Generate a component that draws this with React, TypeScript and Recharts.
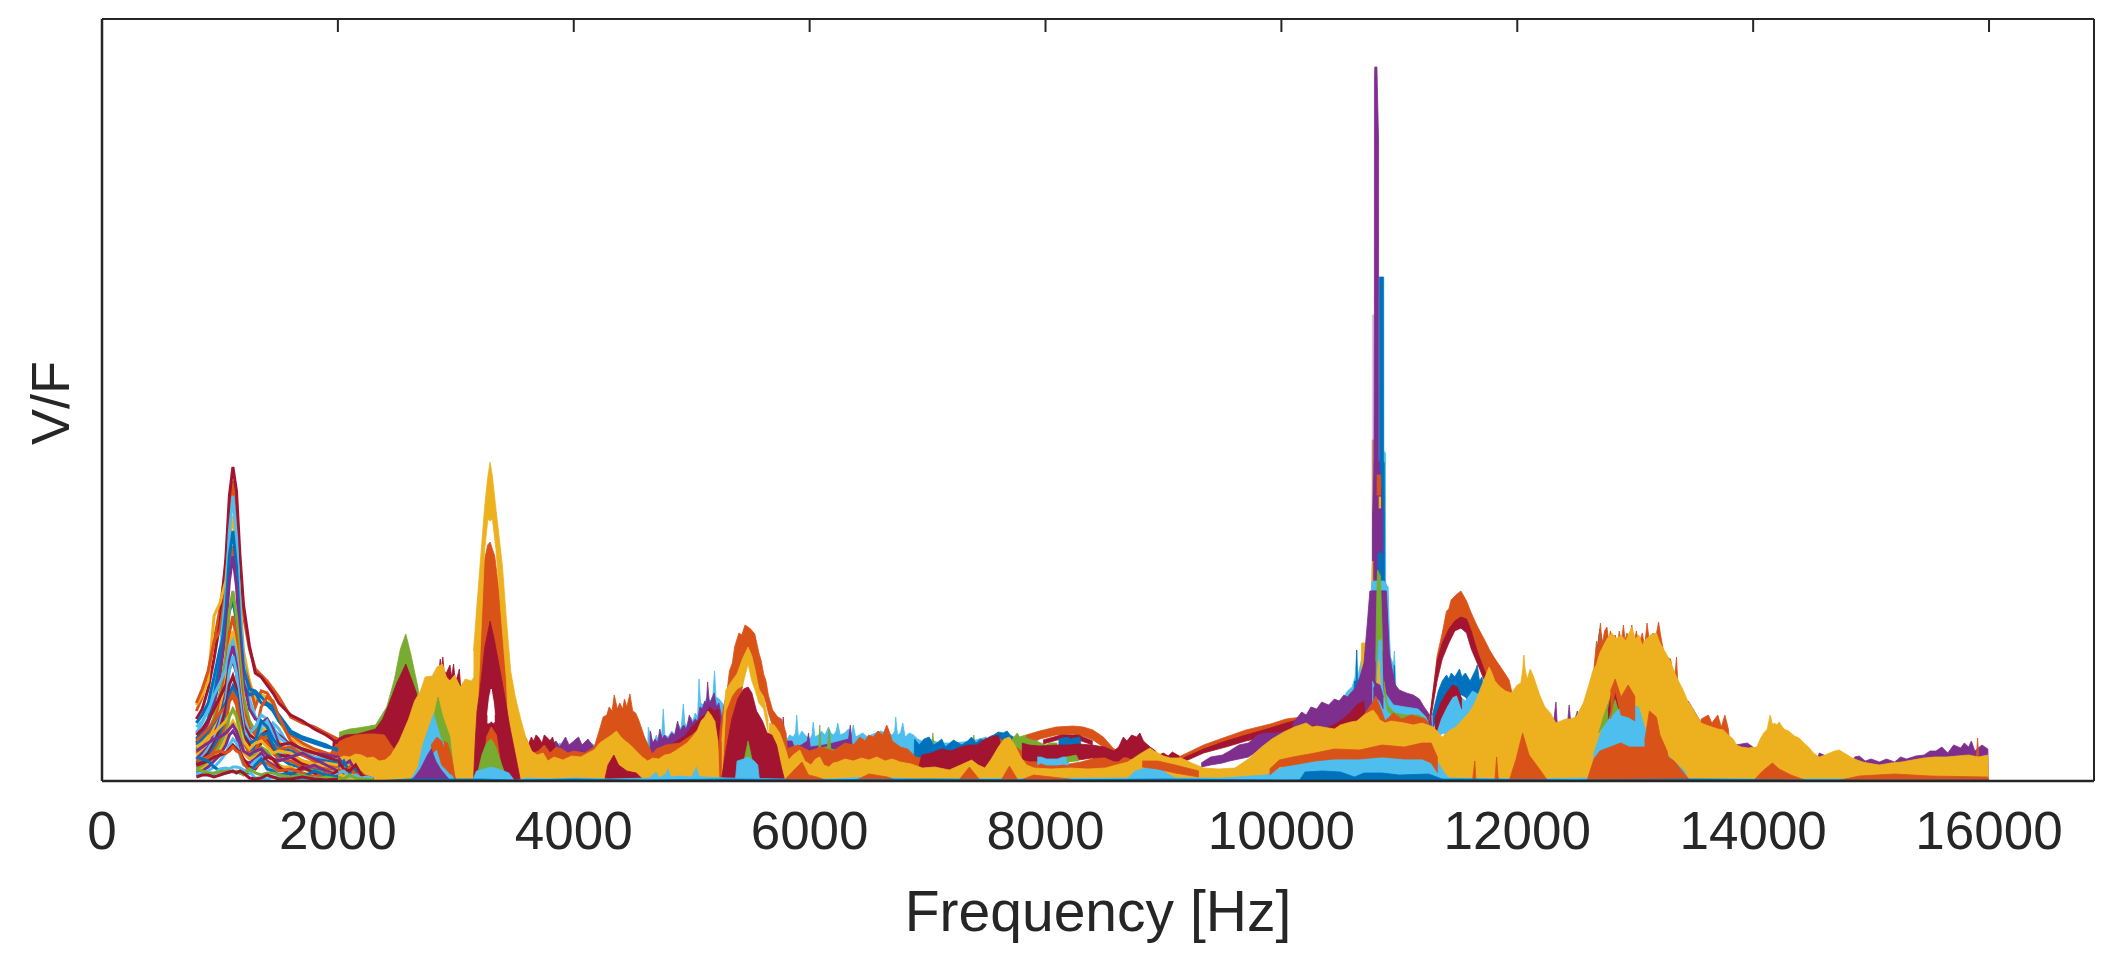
import React from 'react';
import { ComposedChart, Area, Line, XAxis, YAxis } from 'recharts';

// Colours of the series
const B = '#0072BD', O = '#D95319', Y = '#EDB120', P = '#7E2F8E', G = '#77AC30', L = '#4DBEEE', M = '#A2142F';

const xTicks = [0, 2000, 4000, 6000, 8000, 10000, 12000, 14000, 16000];

// Individual traces, 800-2000 Hz
const lowGrid = [800,850,900,950,1000,1050,1080,1110,1140,1170,1200,1250,1300,1350,1400,1450,1500,1600,1700,1800,1900,2000];
const lowTraces: [string, number[]][] = [
  [O, [70,84,108,140,172,215,270,300,265,205,165,132,112,106,100,92,84,64,58,54,48,42]],
  [M, [62,72,92,122,158,222,285,314,290,225,176,135,108,104,96,88,78,66,60,52,46,38]],
  [Y, [76,86,100,165,178,200,240,265,235,180,130,100,80,86,84,76,60,42,36,30,26,22]],
  [O, [78,92,110,140,150,190,215,235,215,165,118,96,74,90,88,78,62,46,38,32,28,24]],
  [L, [48,58,72,92,130,185,250,285,245,175,120,82,64,52,48,58,52,32,26,22,18,16]],
  [B, [42,50,62,84,120,170,225,250,215,155,112,92,90,84,78,74,66,50,44,40,36,30]],
  [B, [58,66,78,104,132,150,170,180,160,118,96,86,88,78,76,70,60,48,42,38,34,32]],
  [P, [38,46,58,76,105,150,200,225,195,140,100,72,62,60,54,52,46,36,32,28,26,24]],
  [G, [32,38,48,64,88,125,170,190,165,120,84,60,50,48,40,36,30,24,20,16,14,12]],
  [O, [28,34,44,58,78,110,148,165,142,102,72,54,46,74,84,80,64,40,30,24,20,16]],
  [Y, [26,30,40,52,70,100,134,150,130,92,64,48,40,44,60,54,40,26,20,18,14,12]],
  [L, [54,60,70,86,98,112,132,140,126,88,62,48,54,66,62,54,44,34,28,24,22,20]],
  [P, [22,28,34,46,62,88,120,135,116,84,58,42,36,58,62,52,36,24,16,12,10,8]],
  [M, [46,52,60,72,84,96,112,120,108,78,56,46,42,46,50,44,36,38,32,28,24,20]],
  [L, [20,24,32,42,58,82,110,125,108,78,52,40,36,54,60,46,30,18,12,10,8,8]],
  [B, [36,42,50,58,68,78,86,89,80,60,46,38,40,60,54,42,34,30,26,22,20,18]],
  [O, [40,46,52,60,68,74,80,84,76,56,44,34,36,46,44,36,32,34,26,20,18,14]],
  [M, [18,22,28,38,52,72,96,105,92,66,46,36,30,38,40,32,26,24,18,14,10,6]],
  [B, [16,20,24,34,46,62,86,95,88,60,42,30,34,46,48,36,24,16,14,12,10,6]],
  [O, [14,16,22,30,40,56,80,88,82,56,38,28,30,44,38,28,22,20,14,14,12,8]],
  [Y, [34,38,44,48,54,60,66,70,64,52,40,32,38,40,34,28,30,28,20,16,18,16]],
  [G, [12,14,18,26,36,48,64,72,66,46,30,24,26,34,30,22,16,10,12,10,8,6]],
  [Y, [10,12,16,22,30,42,54,60,54,40,28,22,24,30,26,20,14,14,8,6,8,10]],
  [P, [30,34,38,42,44,48,52,56,50,40,30,26,30,32,26,22,20,24,28,22,16,10]],
  [P, [8,10,14,20,26,36,46,50,44,30,20,18,22,28,20,16,12,8,12,16,10,6]],
  [L, [6,8,10,14,20,28,36,42,38,26,16,14,20,24,16,12,10,10,6,4,6,8]],
  [M, [16,18,20,24,26,28,32,36,32,28,22,14,12,20,24,22,14,6,14,8,4,10]],
  [O, [20,22,24,28,30,28,30,34,30,28,18,10,14,18,18,14,10,12,8,4,8,2]],
  [B, [24,22,20,14,10,8,9,10,9,8,9,8,16,22,12,10,6,8,4,10,6,4]],
  [L, [8,8,6,7,12,13,12,14,14,13,11,9,3,3,2,4,3,1,2,3,2,1]],
  [G, [12,10,8,8,9,10,10,9,10,8,6,12,8,6,8,8,6,4,6,2,4,2]],
  [M, [4,6,6,4,6,8,9,10,8,10,8,3,2,3,6,4,2,2,4,2,1,2]],
];

// Individual low traces where the bands begin
const mixGrid = [1800,1850,1900,1950,2000,2050,2100,2150,2200,2250,2300];
const mixTraces: [string, number[]][] = [
  [P, [14,20,12,18,24,16,20,10,6,4,2]],
  [B, [8,12,18,10,14,20,8,12,4,3,1]],
  [O, [18,10,16,22,12,8,14,6,8,2,1]],
  [M, [6,14,8,14,20,12,10,16,6,2,2]],
  [L, [4,8,10,6,8,10,4,6,3,4,2]],
  [G, [2,4,3,5,4,2,6,3,2,2,1]],
];

// Filled envelopes: [frequency, upper, optional lower]
type Pt = [number, number, number?];

const lightBlueNoise: Pt[] = [[3600,0],[3650,30],[3700,36],[3760,30],[3800,42],[3830,32],[3880,38],[3930,34],[4000,38],[4060,32],[4120,40],[4200,34],[4300,0],
  [4620,0],[4632,54],[4650,44],[4670,36],[4700,46],[4720,40],[4745,44],[4759,72],[4772,46],[4800,44],[4830,50],[4860,46],[4890,56],[4910,52],[4929,77],[4942,58],[4965,54],[4990,64],[5010,60],[5030,68],[5050,64],[5062,102],[5075,78],[5100,76],[5130,84],[5160,80],[5180,86],[5194,110],[5206,84],[5232,82],[5260,78],[5300,70],[5330,0]];
const lightBlueNoise2: Pt[] = [[5740,0],[5760,50],[5800,40],[5830,46],[5860,44],[5880,48],[5890,66],[5905,44],[5935,50],[5960,46],[6000,42],[6020,46],[6030,59],[6045,44],[6075,46],[6100,50],[6130,46],[6160,54],[6180,48],[6200,46],[6225,50],[6238,58],[6260,46],[6295,48],[6330,52],[6355,46],[6370,56],[6390,44],[6420,46],[6450,48],[6490,44],[6520,46],[6560,48],[6600,50],[6650,48],[6700,46],[6722,50],[6730,64],[6745,46],[6770,48],[6790,58],[6810,44],[6845,48],[6880,46],[6915,42],[6950,40],[7013,42],[7100,38],[7221,38],[7373,40],[7500,44],[7560,0]];
const purpleNoise: Pt[] = [[3800,0],[3810,36],[3850,40],[3880,34],[3930,44],[3960,36],[4000,40],[4040,44],[4070,36],[4120,42],[4170,34],[4200,0],
  [4640,0],[4650,50],[4670,38],[4690,42],[4710,38],[4730,52],[4750,42],[4770,46],[4800,42],[4830,48],[4855,46],[4880,60],[4900,50],[4930,56],[4955,52],[4980,66],[5005,58],[5030,62],[5050,60],[5070,74],[5090,72],[5110,80],[5125,78],[5135,99],[5150,78],[5170,82],[5190,88],[5210,74],[5230,78],[5260,60],[5280,0]];
const purpleNoise2: Pt[] = [[5750,0],[5776,64],[5790,40],[5850,40],[5870,34],[5930,36],[5980,40],[5990,48],[6005,34],[6120,36],[6200,38],[6330,42],[6345,56],[6360,36],[6500,36],[6520,0]];
const greenNoise: Pt[] = [[6040,0],[6060,30],[6078,34],[6086,56],[6096,32],[6130,34],[6150,34],[6166,52],[6180,32],[6260,30],[6290,0],[6900,0],[7035,36],[7045,48],[7055,34],[7380,34],[7392,46],[7405,34],[7500,0]];
const blueNoise: Pt[] = [[6880,0],[6890,42],[6930,36],[6970,42],[7013,44],[7050,36],[7080,38],[7120,42],[7150,34],[7190,38],[7221,41],[7260,38],[7290,36],[7340,40],[7373,44],[7410,38],[7450,42],[7490,40],[7520,44],[7560,46],[7600,49],[7640,48],[7675,50],[7700,46],[7730,44],[7760,0]];
const greenBump: Pt[] = [[7680,0],[7720,42],[7760,48],[7780,44],[7830,46],[7865,44],[7900,38],[7960,32],[8000,0]];
const maroonLowNoise: Pt[] = [[3600,0],[3620,38],[3640,44],[3660,40],[3680,46],[3700,44],[3730,38],[3750,46],[3770,44],[3800,40],[3820,44],[3840,36],[3880,0]];
const greenPeak: Pt[] = [[1980,0],[2016,49],[2100,52],[2168,53],[2319,56],[2414,74],[2480,102],[2530,132],[2576,147],[2620,126],[2678,94],[2720,60],[2760,0]];
const maroonPeak: Pt[] = [[1940,0],[1960,40],[2060,46],[2168,47],[2319,52],[2380,62],[2432,77],[2500,98],[2576,117],[2630,100],[2678,84],[2720,76],[2760,0]];
const maroonHat: Pt[] = [[2800,0],[2820,106],[2840,112],[2855,108],[2868,122],[2878,112],[2890,124],[2900,110],[2920,108],[2935,112],[2950,116],[2965,104],[2981,117],[2995,100],[3012,104],[3030,112],[3040,96],[3070,92],[3095,97],[3120,60],[3140,0]];
const orangeLeft: Pt[] = [[1930,27],[1990,38],[2054,42],[2150,46],[2243,47],[2320,47],[2395,46],[2450,36],[2508,27],[2600,30],[2700,50],[2760,98],[2868,112],[2925,98],[2981,104],[3040,88],[3095,88],[3150,80],[3185,180],[3225,212],[3250,225],[3270,236],[3291,239],[3310,232],[3330,225],[3360,196],[3400,170],[3450,100],[3510,70],[3570,48],[3600,42],[3620,36],[3640,27],[3700,30],[3750,36],[3800,28],[3850,34],[3900,32],[3950,28],[4000,30],[4090,28],[4173,34],[4210,48],[4249,64],[4280,66],[4300,74],[4325,70],[4343,86],[4370,72],[4390,78],[4415,72],[4430,82],[4450,74],[4476,87],[4500,70],[4525,68],[4551,61],[4600,44],[4665,27],[4700,32],[4780,36],[4900,38],[5000,46],[5100,56],[5200,60],[5240,0]];
const maroonRamp: Pt[] = [[4780,0],[4800,34],[4850,38],[4900,42],[4950,46],[5000,54],[5040,58],[5080,64],[5115,66],[5150,74],[5190,70],[5230,72],[5270,0]];
const orangeRing: Pt[] = [[5213,0,0],[5240,50,0],[5270,74,0],[5300,90,0],[5320,110,0],[5345,118,0],[5364,134,0],[5400,148,60],[5425,146,90],[5452,156,115],[5478,154,118],[5500,152,118],[5535,147,105],[5570,128,90],[5590,120,88],[5610,107,85],[5630,100,78],[5650,86,68],[5686,71,55],[5730,64,0],[5762,62,0],[5800,48,0],[5830,0,0]];
const orangeMid: Pt[] = [[5746,0],[5800,32],[5900,36],[6000,30],[6100,34],[6200,30],[6300,38],[6370,36],[6427,44],[6470,40],[6500,46],[6540,44],[6580,50],[6620,46],[6654,56],[6680,48],[6700,40],[6770,34],[6830,32],[6900,24],[7032,21],[7120,26],[7200,24],[7300,28],[7410,28],[7470,34],[7524,38],[7580,42],[7638,41],[7720,36],[7800,30],[7900,26],[8016,18],[8100,16],[8200,17],[8300,19],[8394,22],[8470,28],[8545,29],[8640,24],[8700,26],[8800,24],[8900,22],[9000,0]];
const maroonMid: Pt[] = [[6900,0],[6950,26],[7032,28],[7120,32],[7200,30],[7280,34],[7350,36],[7420,36],[7486,42],[7540,44],[7600,46],[7680,0]];
const orangeArch: Pt[] = [[7836,46,34],[7950,50,42],[8091,54,46],[8233,55,47],[8320,54,45],[8402,51,41],[8490,44,34],[8572,33,24],[8640,28,22]];
const maroonArch: Pt[] = [[7800,38,22],[7860,36,20],[7950,35,20],[8100,36,20],[8200,36,20],[8280,37,21],[8394,36,23],[8500,34,24],[8580,30,20],[8620,34,20],[8660,44,24],[8690,40,24],[8730,46,22],[8772,44,22],[8800,48,20],[8830,40,20],[8886,34,20],[8924,31,20],[8960,26,20],[9000,28,20],[9040,25,20],[9075,29,20],[9150,24,18]];
const greenArch: Pt[] = [[7800,44,34],[7860,42,34],[7920,40,30],[8000,36,30],[8040,38,34],[8100,38,34]];
const blueArch: Pt[] = [[8110,42,36],[8190,44,36],[8210,42,34],[8290,44,36],[8300,36,36]];
const maroonArch2: Pt[] = [[7980,41,37],[8130,46,42],[8280,46,41],[8400,40,36]];
const lightBlueArch: Pt[] = [[7930,24,16],[7960,24,18],[8010,22,16],[8100,22,16],[8150,24,17],[8190,24,16],[8200,20,18]];
const greenArch2: Pt[] = [[8180,24,19],[8260,26,20],[8280,21,20]];
const riseArc: Pt[] = [[9130,24,20],[9340,36,30],[9529,44,38],[9700,51,44],[9907,57,50],[10040,62,52],[10172,64,54]];
const riseArcInner: Pt[] = [[9150,22,18],[9340,32,28],[9529,40,34],[9700,46,40],[9907,53,46],[10040,58,50],[10172,62,50]];
const purpleArcBits: Pt[] = [[9320,18,14],[9400,24,16],[9500,26,18],[9560,30,20],[9640,36,22],[9720,38,24],[9800,46,30],[9860,48,34],[9950,48,36],[10060,50,40]];
const purpleHigh: Pt[] = [[10050,0],[10100,58],[10172,69],[10210,66],[10250,74],[10300,72],[10342,79],[10400,76],[10450,82],[10490,80],[10530,86],[10560,84],[10588,88],[10620,92],[10650,98],[10700,118],[10730,160],[10750,190],[10890,190],[10915,128],[10935,114],[10966,96],[11000,91],[11060,88],[11118,86],[11170,82],[11210,74],[11270,64],[11300,0]];
const lightBlueHigh: Pt[] = [[10480,0],[10500,78],[10560,90],[10600,94],[10625,104],[10638,131],[10648,104],[10680,122],[10720,130],[10745,170],[10770,200],[10870,200],[10905,194],[10915,150],[10925,124],[10950,116],[10958,130],[10970,96],[11000,86],[11120,76],[11200,74],[11280,44],[11300,0]];
const blueHigh: Pt[] = [[10600,0],[10620,100],[10634,100],[10638,131],[10645,100],[10720,110],[10745,170],[10770,190],[10880,190],[10895,170],[10915,120],[10950,100],[10958,116],[10965,80],[11000,0]];
const maroonHigh: Pt[] = [[10170,0],[10200,48],[10280,56],[10360,52],[10440,56],[10500,60],[10580,68],[10640,76],[10700,80],[10740,0]];
const lightBlueTop: Pt[] = [[10864,0],[10865,504],[10868,504],[10869,330],[10882,328],[10884,200],[10905,150],[10920,0]];
const spikeBlue: Pt[] = [[10830,0],[10831,504],[10864,504],[10865,320],[10872,318],[10877,180],[10890,170],[10900,0]];
const spikePurple: Pt[] = [[10780,0],[10788,470],[10789,700],[10792,714],[10810,714],[10824,640],[10825,0]];
const spikeFaint: Pt[] = [[10770,0],[10771,466],[10788,466],[10789,0]];
const spikeRust: Pt[] = [[10770,0],[10771,341],[10788,341],[10789,0]];
const spikeUpper: Pt[] = [[10774,268],[10788,320],[10830,320],[10860,268]];
const spikeOrange: Pt[] = [[10808,306,286],[10845,306,286]];
const spikeYellow: Pt[] = [[10825,284,273],[10845,284,273]];
const spikeMid: Pt[] = [[10770,0],[10774,268],[10859,268],[10865,0]];
const spikeBlueMid: Pt[] = [[10815,0],[10820,228],[10860,228],[10870,0]];
const spikeYellowSide: Pt[] = [[10758,100],[10768,210],[10775,220],[10775,100]];
const spikeGreen: Pt[] = [[10800,120,100],[10808,180,110],[10815,211,130],[10840,205,130],[10859,130,100]];
const spikeCenter: Pt[] = [[10795,50],[10810,110],[10825,140],[10845,142],[10860,100],[10880,50]];
const spikeCenterY: Pt[] = [[10805,85,75],[10822,120,85],[10830,120,85],[10842,85,75]];
const sideYellow: Pt[] = [[10670,60],[10680,138],[10735,138],[10745,70]];
const loopLightBlue: Pt[] = [[10770,100,68],[10830,86,70],[10880,88,60],[10950,76,60],[11050,74,62],[11160,72,60],[11226,64,56],[11270,50,40]];
const loopGreen: Pt[] = [[10870,100,90],[10900,76,70],[10960,68,64],[11050,66,62],[11160,66,62],[11226,62,56]];
const loopPurple: Pt[] = [[10780,92,76],[10800,98,84],[10835,96,80],[10865,84,72]];
const orangeCrown: Pt[] = [[10640,58],[10700,66],[10770,78],[10800,85],[10850,70],[10880,60],[10950,68],[11020,62],[11100,66],[11220,62],[11290,50],[11320,0]];
const archOrange: Pt[] = [[11250,60,60],[11269,71,66],[11320,125,108],[11364,148,130],[11400,170,140],[11420,172,146],[11439,181,150],[11480,186,152],[11522,190,153],[11570,180,150],[11610,168,134],[11660,155,120],[11723,141,106],[11770,130,100],[11818,121,86],[11870,112,80],[11931,101,60],[11969,81,50],[12000,0,0]];
const archMaroon: Pt[] = [[11262,68,60],[11320,120,100],[11364,138,122],[11420,152,138],[11470,160,150],[11522,164,153],[11570,162,148],[11610,150,132],[11660,130,118],[11723,110,100],[11770,98,88],[11800,86,78]];
const blueInner: Pt[] = [[11280,66,50],[11330,90,68],[11364,100,80],[11400,106,84],[11420,102,88],[11440,108,90],[11470,104,88],[11510,112,86],[11530,104,86],[11560,108,84],[11600,100,78],[11650,112,60],[11660,116,60],[11680,100,55],[11700,104,50],[11740,80,0]];
const lightBlueInner: Pt[] = [[11290,46,26],[11340,72,46],[11380,82,48],[11420,82,36],[11460,84,32],[11500,86,36],[11560,80,28],[11620,90,22],[11680,86,20],[11740,70,20],[11800,40,0]];
const maroonInnerArc: Pt[] = [[11300,62,44],[11350,78,62],[11400,88,74],[11450,96,84],[11490,94,86],[11530,82,72]];
const orangeBump: Pt[] = [[12600,60],[12640,100],[12672,140],[12680,130],[12705,158],[12720,136],[12740,150],[12760,154],[12775,140],[12790,150],[12810,142],[12830,146],[12850,138],[12865,150],[12880,136],[12900,156],[12915,140],[12930,148],[12950,140],[12971,156],[12990,138],[13010,150],[13030,136],[13060,148],[13080,134],[13100,158],[13120,140],[13150,148],[13175,144],[13198,159],[13215,146],[13240,130],[13260,124],[13300,122],[13325,104],[13340,110],[13350,124],[13362,96],[13420,84],[13500,66],[13580,46],[13700,0]];
const blueEdge: Pt[] = [[12590,60],[12640,96],[12680,134],[12700,152],[12720,140],[12740,0]];
const purpleEnd: Pt[] = [[12180,0],[12190,60],[12300,50],[12328,79],[12342,50],[12420,50],[12440,76],[12460,50],[12510,70],[12530,0],[13400,0],[13450,80],[13550,60],[13650,0],[13800,0],[13850,36],[13950,38],[14020,32],[14100,0],[14500,0],[14560,28],[14600,26],[14640,22],[14800,0],[14860,24],[14900,25],[14950,20],[15000,22],[15071,19],[15130,22],[15200,19],[15250,24],[15300,22],[15380,25],[15449,26],[15500,30],[15550,30],[15600,34],[15650,28],[15700,36],[15760,33],[15790,38],[15827,34],[15850,40],[15880,30],[15940,36],[15990,32],[15995,0]];
const orangeTail: Pt[] = [[13500,0],[13560,62],[13620,66],[13650,58],[13700,66],[13730,54],[13760,66],[13790,52],[13830,0]];
const orangeEndSpike: Pt[] = [[15880,0],[15895,28],[15903,43],[15911,28],[15925,0]];

const yellowMain: Pt[] = [[1980,0],[1990,22],[2050,25],[2100,24],[2150,27],[2200,26],[2250,23],[2300,24],[2350,20],[2400,21],[2450,26],[2520,40],[2600,62],[2650,80],[2700,90],[2740,104],[2800,105],[2840,114],[2887,117],[2920,104],[2950,100],[2990,106],[3038,94],[3080,102],[3132,100],[3180,108],[3225,0]];
const yellowRing: Pt[] = [[3150,130,0],[3195,200,100],[3245,275,232],[3272,305,262],[3291,319,260],[3310,305,262],[3340,272,232],[3395,215,150],[3430,160,100],[3465,110,0],[3505,84,0],[3550,62,0],[3592,44,0],[3643,30,0],[3690,26,0],[3740,28,0],[3780,20,0],[3832,24,0],[3908,21,0],[3980,25,0],[4060,24,0],[4120,28,0],[4173,31,0],[4220,38,0],[4270,42,0],[4320,46,0],[4362,50,0],[4400,44,0],[4437,40,0],[4480,36,0],[4530,30,0],[4580,24,0],[4627,20,0],[4670,23,0],[4720,22,0],[4770,26,0],[4816,27,0],[4860,30,0],[4910,34,0],[4960,38,0],[5005,44,0],[5045,50,0],[5080,60,0],[5110,64,0],[5138,70,0],[5165,66,0],[5194,60,0],[5222,40,0],[5232,0,0]];
const yellowRing55: Pt[] = [[5255,40,0],[5289,91,70],[5340,100,85],[5384,107,92],[5430,122,95],[5478,134,117],[5510,125,100],[5540,110,90],[5570,92,78],[5610,84,72],[5650,60,48]];
const yellowMain2: Pt[] = [[5640,0],[5660,58],[5700,56],[5746,48],[5790,34],[5822,21],[5860,26],[5916,31],[5960,20],[6011,16],[6050,22],[6086,24],[6120,16],[6162,14],[6200,18],[6238,19],[6300,22],[6370,20],[6440,23],[6503,21],[6570,24],[6640,20],[6700,22],[6767,19],[6860,17],[6957,13],[7060,14],[7184,11],[7280,16],[7373,21],[7430,16],[7486,13],[7540,22],[7600,34],[7650,42],[7694,44],[7740,36],[7789,24],[7840,16],[7902,13],[8050,12],[8205,13],[8360,12],[8508,13],[8600,16],[8697,19],[8750,23],[8800,27],[8886,33],[8920,30],[9000,25],[9060,23],[9150,23],[9240,18],[9340,13],[9470,12],[9605,13],[9720,22],[9832,34],[9920,42],[10021,49],[10110,54],[10210,58],[10260,54],[10300,55],[10399,53],[10450,52],[10500,56],[10588,59],[10640,60],[10700,66],[10777,71],[10810,66],[10834,61],[10880,58],[10930,60],[11042,58],[11120,56],[11193,58],[11288,54],[11364,44],[11420,50],[11480,54],[11540,62],[11590,68],[11640,78],[11680,90],[11720,102],[11761,114],[11785,108],[11810,100],[11855,94],[11900,90],[11950,88],[12000,96],[12030,98],[12045,110],[12056,126],[12068,110],[12085,102],[12110,112],[12139,104],[12190,86],[12234,74],[12280,68],[12328,58],[12370,60],[12410,62],[12450,62],[12499,64],[12560,78],[12612,98],[12640,110],[12670,116],[12700,128],[12725,134],[12760,142],[12801,148],[12840,142],[12880,146],[12920,140],[12971,154],[13000,142],[13030,146],[13060,136],[13085,141],[13130,146],[13180,148],[13210,138],[13240,132],[13293,121],[13350,104],[13406,91],[13445,80],[13480,74],[13520,66],[13558,58],[13600,56],[13650,54],[13700,52],[13747,51],[13790,46],[13830,42],[13860,36],[13898,34],[13960,33],[14031,34],[14060,42],[14090,48],[14120,52],[14144,66],[14165,56],[14180,58],[14200,56],[14220,59],[14260,52],[14300,50],[14350,45],[14390,43],[14430,38],[14470,34],[14510,28],[14560,24],[14610,26],[14650,28],[14690,30],[14730,31],[14770,28],[14800,26],[14840,23],[14882,21],[14930,19],[14970,18],[15020,17],[15071,16],[15170,18],[15260,19],[15350,21],[15449,23],[15540,24],[15640,24],[15730,25],[15827,26],[15910,24],[15990,26],[15995,0]];

const orange3300Patch: Pt[] = [[3240,0],[3260,44],[3300,54],[3345,46],[3400,0]];
const maroonFront: Pt[] = [[3150,0],[3165,40],[3180,70],[3208,94],[3246,134],[3291,160],[3325,142],[3360,120],[3416,84],[3455,56],[3492,34],[3549,0]];
const whiteHoles3300: Pt[] = [[3268,66,58],[3285,84,58],[3300,92,60],[3320,78,58],[3330,66,60]];
const green3300: Pt[] = [[3170,0],[3220,26],[3260,38],[3300,42],[3340,34],[3390,16],[3440,0]];
const lightBlue3300: Pt[] = [[3140,0],[3175,10],[3240,12],[3300,14],[3360,12],[3450,8],[3500,0]];
const orange2900: Pt[] = [[2900,40,20],[2930,38,16],[2960,26,8],[3000,0,0]];
const green2850: Pt[] = [[2730,0],[2790,52],[2849,84],[2890,64],[2950,44],[2990,0]];
const lightBlue2810: Pt[] = [[2610,0],[2680,14],[2720,36],[2811,67],[2870,44],[2950,24],[3000,0]];
const orange2850: Pt[] = [[2790,36,26],[2840,44,32],[2880,40,16],[2930,24,10],[2960,12,6]];
const purple2790: Pt[] = [[2610,0],[2650,4],[2700,12],[2760,26],[2792,32],[2830,20],[2870,12],[2940,2],[2960,0]];
const maroon4300: Pt[] = [[4260,0],[4290,16],[4340,26],[4380,16],[4450,10],[4530,8],[4600,0]];
const lightBlueBase: Pt[] = [[3500,0],[3600,3],[3800,2],[4000,3],[4300,2],[4640,3],[4700,9],[4720,3],[4780,7],[4800,12],[4820,4],[4900,5],[5000,4],[5040,14],[5060,5],[5100,4],[5300,3],[5760,2],[6200,2],[6500,4],[6900,2],[7200,2],[8700,3],[8760,10],[8880,14],[8962,18],[9020,8],[9100,3],[9500,3],[9870,6],[10096,18],[10300,21],[10475,23],[10660,22],[10853,24],[11100,22],[11307,23],[11370,10],[11420,3],[12000,2],[12600,3],[13500,2],[16000,2]];
const blueBase: Pt[] = [[2300,0],[2600,2],[3200,2],[3500,1],[4000,2],[4600,1],[5300,2],[6000,1],[7000,2],[8000,1],[9000,2],[10000,1],[11500,2],[12500,1],[13500,2],[14500,1],[16000,1]];
const orangeIsland: Pt[] = [[5780,0],[5860,10],[5935,19],[5990,6],[6060,4],[6160,0]];
const orangeSmall: Pt[] = [[6380,0],[6503,7],[6660,4],[6750,0],[7260,0],[7354,14],[7450,0],[7620,0],[7694,15],[7770,0],[7900,6],[8200,2],[8250,0]];
const orangeRight: Pt[] = [[8820,20,14],[8950,20,12],[9100,16,8],[9300,10,4]];
const orangeLower: Pt[] = [[9900,12,6],[9983,21,14],[10096,24,16],[10285,28,20],[10450,32,22],[10664,31,22],[10853,36,24],[11042,34,22],[11193,38,22],[11270,38,18],[11326,23,8]];
const blueLower: Pt[] = [[10150,0],[10200,9],[10350,10],[10500,9],[10620,4],[10700,8],[10853,8],[11000,6],[11250,7],[11360,2],[11420,0]];
const orange12000: Pt[] = [[11620,0],[11640,20],[11650,0],[11810,0],[11825,24],[11840,0],[11930,0],[11990,22],[12045,48],[12100,26],[12200,10],[12260,0]];
const lightBlue12900: Pt[] = [[12640,0],[12650,28],[12725,54],[12800,84],[12839,84],[12900,74],[12950,76],[13028,74],[13100,46],[13180,40],[13290,24],[13420,10],[13450,0]];
const green12900: Pt[] = [[12690,48],[12730,64],[12790,84],[12840,90],[12870,74],[12760,60],[12690,48]];
const maroon12900: Pt[] = [[12770,70,62],[12800,88,74],[12830,92,84],[12860,80,72]];
const orange12900Top: Pt[] = [[12790,90,62],[12830,102,90],[12880,84,66],[12940,96,64],[13000,84,60]];
const orange12900: Pt[] = [[12590,0],[12650,22],[12700,30],[12877,38],[12950,34],[13100,34],[13180,32],[13330,20],[13440,4],[13470,0]];
const orangeRightSpike: Pt[] = [[13080,40],[13120,70],[13180,64],[13210,46],[13270,30],[13320,0]];
const orangeEndBase: Pt[] = [[14000,0],[14080,10],[14163,18],[14220,12],[14320,6],[14460,0],[14700,0],[14900,5],[15200,7],[15500,5],[15990,4],[15995,0]];

const layers: [string, Pt[]][] = [
  [L, lightBlueNoise], [P, purpleNoise], [L, lightBlueNoise2], [P, purpleNoise2], [G, greenNoise], [B, blueNoise], [G, greenBump],
  [M, maroonLowNoise], [G, greenPeak], [M, maroonPeak], [M, maroonHat], [M, maroonRamp], [L, blueEdge], [B, blueEdge],
  [O, orangeArch], [M, maroonArch2], [G, greenArch], [B, blueArch], [O, orangeMid], [M, maroonMid], [M, maroonArch], [L, lightBlueArch], [G, greenArch2],
  [O, riseArc], [M, riseArcInner], [P, purpleArcBits], [P, purpleEnd],
  [O, orangeLeft], [O, orangeRing],
  [L, lightBlueTop], [B, spikeBlue], ['#D9C3E0', spikeFaint], ['#BC8A74', spikeRust], [P, spikePurple], [P, spikeUpper], [P, spikeMid], [O, spikeOrange], [Y, spikeYellow], [B, spikeBlueMid], [Y, spikeYellowSide],
  [L, lightBlueHigh], [B, blueHigh], [Y, sideYellow], [P, purpleHigh], [M, maroonHigh], [G, spikeGreen], [L, spikeCenter], [Y, spikeCenterY],
  [L, loopLightBlue], [G, loopGreen], [P, loopPurple], [O, orangeCrown],
  [B, blueInner], [L, lightBlueInner], [M, maroonInnerArc], [O, archOrange], [M, archMaroon], [O, orangeBump], [O, orangeTail], [O, orangeEndSpike],
  [Y, yellowMain], [Y, yellowRing], [Y, yellowRing55], [Y, yellowMain2],
  [M, [[5250,0],[5290,30],[5340,62],[5390,82],[5440,92],[5478,94],[5510,88],[5550,70],[5600,60],[5640,48],[5680,46],[5720,36],[5760,14],[5790,0]]],
  [G, [[5400,0],[5440,18],[5478,40],[5510,22],[5550,0]]],
  [L, [[5370,0],[5385,20],[5440,22],[5478,24],[5530,20],[5560,16],[5575,0]]],
  [M, maroonFront], [O, orange3300Patch], [G, green3300], [L, lightBlue3300], ['#FFFFFF', whiteHoles3300],
  [G, green2850], [L, lightBlue2810], [O, orange2850], [P, purple2790], [O, orange2900], [M, maroon4300],
  [L, lightBlueBase], [O, orangeIsland], [O, orangeSmall], [O, orangeRight], [O, orangeLower], [B, blueLower],
  [O, orange12000], [L, lightBlue12900], [G, green12900], [M, maroon12900], [O, orange12900Top], [O, orange12900], [O, orangeRightSpike], [O, orangeEndBase], [B, blueBase],
];

const band = (pts: Pt[]) => pts.map(([f, hi, lo]) => ({ f, band: [lo ?? 0, hi] }));
const trace = (grid: number[], vals: number[]) => grid.map((f, i) => ({ f, v: vals[i] }));

const ink = '#262626';
const font = '"Liberation Sans", Arial, sans-serif';

export default function App() {
  return (
    <div style={{ position: 'absolute', left: 0, top: 0, width: 2116, height: 972, background: '#fff', filter: 'blur(0.6px)' }}>
      <ComposedChart width={2116} height={972} margin={{ left: 0, right: 0, top: 19, bottom: 0 }}>
        <XAxis xAxisId="b" dataKey="f" type="number" domain={[0, 16890]} ticks={xTicks} interval={0} orientation="bottom" height={191}
          allowDataOverflow tickLine={false} tickMargin={24} stroke={ink} strokeWidth={2.5}
          tick={{ fontSize: 53, fill: ink, fontFamily: font }}
          label={{ value: 'Frequency [Hz]', position: 'insideBottom', offset: 41, fontSize: 57, fill: ink, fontFamily: font }} />
        <XAxis xAxisId="t" dataKey="f" type="number" domain={[0, 16890]} ticks={xTicks} interval={0} orientation="top" height={1} mirror
          allowDataOverflow tick={() => <g />} tickLine={{ stroke: ink, strokeWidth: 2 }} tickSize={13} stroke={ink} strokeWidth={2} />
        <YAxis yAxisId="l" type="number" domain={[0, 762]} orientation="left" width={102} ticks={[]} tick={false} tickLine={false} stroke={ink} strokeWidth={2.5}
          label={{ value: 'V/F', content: () => (
            <text transform="translate(50,403) rotate(-90)" textAnchor="middle" dominantBaseline="central" fontSize={54} fill={ink} fontFamily={font}>V/F</text>
          ) }} />
        <YAxis yAxisId="r" type="number" domain={[0, 762]} orientation="right" width={22} ticks={[]} tick={false} tickLine={false} stroke={ink} strokeWidth={2} />
        {layers.map(([color, pts], i) => (
          <Area key={'a' + i} xAxisId="b" yAxisId="l" data={band(pts)} dataKey="band" type="linear" fill={color} fillOpacity={1}
            stroke={color} strokeWidth={0.8} dot={false} activeDot={false} isAnimationActive={false} />
        ))}
        {mixTraces.map(([color, vals], i) => (
          <Line key={'m' + i} xAxisId="b" yAxisId="l" data={trace(mixGrid, vals)} dataKey="v" stroke={color} strokeWidth={3} dot={false} activeDot={false} isAnimationActive={false} />
        ))}
        {lowTraces.map(([color, vals], i) => (
          <Line key={'l' + i} xAxisId="b" yAxisId="l" data={trace(lowGrid, vals)} dataKey="v" stroke={color} strokeWidth={3} dot={false} activeDot={false} isAnimationActive={false} />
        ))}
      </ComposedChart>
    </div>
  );
}
